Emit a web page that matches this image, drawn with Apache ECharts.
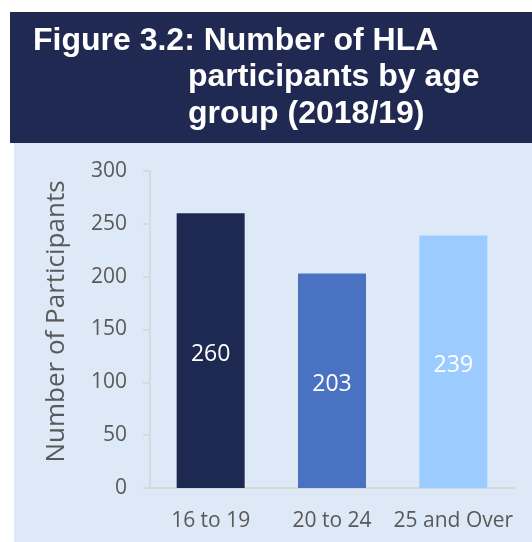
<!DOCTYPE html>
<html>
<head>
<meta charset="utf-8">
<script src="https://cdn.jsdelivr.net/npm/echarts@6/dist/echarts.min.js"></script>
<style>
html,body{margin:0;padding:0;background:#ffffff;}
#chart{width:532px;height:542px;}
</style>
</head>
<body>
<div id="chart"></div>
<script>
const titleLines = ['Figure 3.2: Number of HLA', 'participants by age', 'group (2018/19)'];
const categories = ['16 to 19', '20 to 24', '25 and Over'];
const values = [260, 203, 239];
const barColors = ['#1e2952', '#4a72c2', '#9bcbff'];
const yTicks = { min: 0, max: 300, interval: 50 };
const yName = 'Number of Participants';

const chart = echarts.init(document.getElementById('chart'), null, { renderer: 'canvas' });
const font = '"Open Sans", sans-serif';
const tFont = 'bold 32px "Liberation Sans", Arial, sans-serif';
chart.setOption({
  backgroundColor: '#ffffff',
  animation: false,
  graphic: [
    { type: 'rect', z: -10, shape: { x: 10, y: 12, width: 522, height: 131 }, style: { fill: '#1f2951' }, silent: true },
    { type: 'rect', z: -10, shape: { x: 14, y: 143, width: 518, height: 399 }, style: { fill: '#dde9f6' }, silent: true },
    { type: 'text', z: 10, x: 33, y: 41, style: { text: titleLines[0], fill: '#ffffff', font: tFont, verticalAlign: 'middle' } },
    { type: 'text', z: 10, x: 188, y: 77, style: { text: titleLines[1], fill: '#ffffff', font: tFont, verticalAlign: 'middle' } },
    { type: 'text', z: 10, x: 188, y: 114, style: { text: titleLines[2], fill: '#ffffff', font: tFont, verticalAlign: 'middle' } }
  ],
  grid: { left: 150, right: 18, top: 171, bottom: 54, containLabel: false },
  xAxis: {
    type: 'category',
    data: categories,
    axisLine: { show: true, lineStyle: { color: '#d9d9d9', width: 2 } },
    axisTick: { show: false },
    axisLabel: { interval: 0, color: '#595959', fontFamily: font, fontSize: 21, margin: 23 },
    splitLine: { show: false }
  },
  yAxis: {
    type: 'value',
    min: yTicks.min, max: yTicks.max, interval: yTicks.interval,
    name: yName,
    nameLocation: 'middle',
    nameGap: 80,
    nameRotate: 90,
    nameTextStyle: { color: '#595959', fontFamily: font, fontSize: 26, padding: [0, 0, 0, 16] },
    axisLine: { show: true, lineStyle: { color: '#d9d9d9', width: 2 } },
    axisTick: { show: true, inside: false, length: 7, lineStyle: { color: '#d9d9d9', width: 2 } },
    axisLabel: { color: '#595959', fontFamily: font, fontSize: 21, margin: 23 },
    splitLine: { show: false }
  },
  series: [{
    type: 'bar',
    data: values.map((v, i) => ({ value: v, itemStyle: { color: barColors[i] } })),
    barWidth: 68,
    label: { show: true, position: 'inside', offset: [0, 4], color: '#ffffff', fontFamily: font, fontSize: 23 }
  }]
});
</script>
</body>
</html>
